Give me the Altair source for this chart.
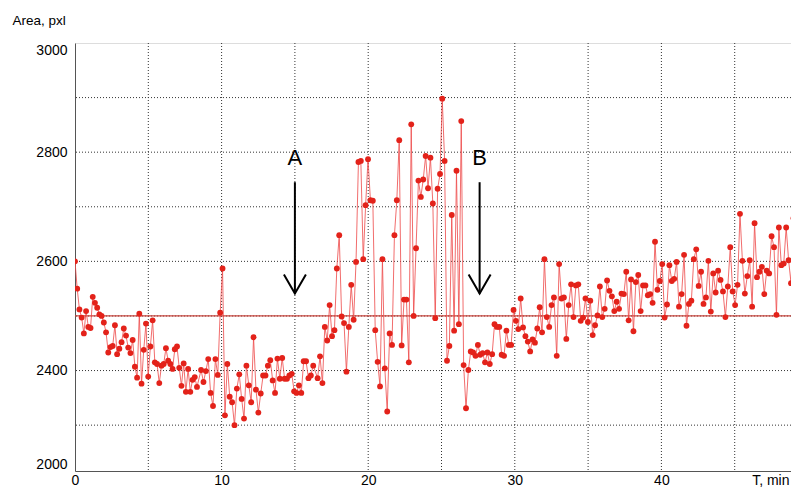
import altair as alt
import pandas as pd
import numpy as np

# ---- measured series (Area, pxl), read segment by segment ----
SEG1 = [2600, 2550, 2512, 2497, 2468, 2509, 2480, 2478, 2535, 2524,
        2515, 2503, 2500, 2488, 2470, 2433, 2443, 2445, 2483, 2430,
        2440, 2452, 2477, 2464, 2442, 2432, 2456, 2407, 2387, 2504,
        2376, 2438, 2486, 2389, 2444, 2492, 2415, 2412, 2377, 2409,
        2412, 2441, 2418, 2412, 2403, 2439, 2444, 2405, 2372, 2413,
        2361, 2403, 2361, 2383, 2388, 2370]
SEG2 = [2401, 2379, 2399, 2421, 2359, 2335, 2421, 2392, 2506, 2587,
        2318, 2412, 2352, 2342, 2300, 2367, 2393, 2348, 2312, 2409,
        2373, 2342, 2461, 2365, 2323, 2358, 2391, 2391, 2409, 2419,
        2382, 2359, 2422, 2385, 2423, 2385, 2385, 2391, 2394, 2362,
        2359, 2373, 2359, 2417, 2417, 2386, 2391, 2409]
SEG3 = [2386, 2426, 2377, 2480, 2455, 2520, 2463, 2474, 2587, 2648,
        2499, 2487, 2398, 2480, 2557, 2493, 2599, 2782, 2784, 2604,
        2703, 2787, 2712, 2711, 2474, 2416, 2371, 2604, 2404, 2325,
        2468, 2447, 2648, 2712, 2822, 2446, 2530, 2530, 2415, 2851,
        2500, 2624, 2748, 2718, 2750, 2793, 2734, 2790, 2706, 2496,
        2733, 2760]
SEG4 = [2898, 2784, 2418, 2445, 2685, 2473, 2766, 2485, 2857, 2410,
        2331, 2401, 2435, 2433, 2427, 2447, 2429, 2432, 2415, 2433,
        2412, 2430, 2485, 2480, 2480, 2429, 2427, 2473, 2447, 2447,
        2511, 2491, 2476, 2532, 2479, 2463, 2453, 2435, 2457, 2451,
        2477, 2516, 2470, 2604, 2498, 2480, 2520, 2534]
SEG5 = [2427, 2595, 2532, 2534, 2458, 2520, 2558, 2498, 2556, 2558,
        2491, 2497, 2532, 2489, 2528, 2465, 2483, 2501, 2554, 2498,
        2513, 2565, 2546, 2536, 2509, 2526, 2513, 2541, 2540, 2581,
        2492, 2567, 2472, 2562, 2575, 2509, 2556, 2556, 2538, 2540,
        2524, 2636, 2548, 2564, 2595, 2497, 2521, 2593, 2564, 2568,
        2599, 2517]
SEG6 = [2540, 2612, 2482, 2522, 2528, 2604, 2622, 2555, 2581, 2522,
        2534, 2601, 2508, 2578, 2543, 2583, 2566, 2545, 2498, 2554,
        2626, 2545, 2520, 2557, 2687, 2601, 2541, 2573, 2602, 2517,
        2670, 2571, 2581, 2590, 2540, 2583, 2578, 2646, 2626, 2502,
        2662, 2593, 2596, 2662, 2602, 2560, 2679, 2656, 2621]
SEGMENTS = [SEG1, SEG2, SEG3, SEG4, SEG5, SEG6]
# first / last sample time (min) of each segment
SEG_T0 = [0.0, 8.60, 16.55, 25.05, 32.86, 41.38]
SEG_T1 = [8.32, 16.25, 24.90, 32.67, 41.20, 49.34]

X_MAX = 48.84
Y_MIN, Y_MAX = 2216, 3000
BASELINE = [2500]
X_LABEL_VALUES = [0, 10, 20, 30, 40]
X_GRID = [5, 10, 15, 20, 25, 30, 35, 40, 45]
Y_GRID = [2300, 2400, 2500, 2600, 2700, 2800, 2900]
Y_LABEL_VALUES = [Y_MIN, 2400, 2600, 2800, 3000]
Y_LABEL_TEXT = ["2000", "2400", "2600", "2800", "3000"]

ARROW_X = [15.0, 27.6]
ARROW_TEXT = ["A", "B"]
ARROW_TEXT_Y = 2790
ARROW_TOP = 2745
ARROW_TIP = 2541
ARROW_WING_Y = 2576
ARROW_WING_DX = 0.75

FONT = "Liberation Sans"

# ---- tables ----
rows = []
for seg, t0, t1 in zip(SEGMENTS, SEG_T0, SEG_T1):
    for t, v in zip(np.linspace(t0, t1, len(seg)), seg):
        rows.append({"t": float(t), "area": v})
df = pd.DataFrame(rows)

grid_x = pd.DataFrame({"x": X_GRID})
grid_y = pd.DataFrame({"y": Y_GRID})
base_df = pd.DataFrame({"y": BASELINE})
arrows = pd.DataFrame({"x": ARROW_X, "label": ARROW_TEXT,
                       "ty": [ARROW_TEXT_Y] * len(ARROW_X),
                       "top": [ARROW_TOP] * len(ARROW_X),
                       "tip": [ARROW_TIP] * len(ARROW_X)})
heads = []
for i, ax in enumerate(ARROW_X):
    heads += [{"id": i, "o": 0, "x": ax - ARROW_WING_DX, "y": ARROW_WING_Y},
              {"id": i, "o": 1, "x": ax, "y": ARROW_TIP},
              {"id": i, "o": 2, "x": ax + ARROW_WING_DX, "y": ARROW_WING_Y}]
heads = pd.DataFrame(heads)

label_expr = "".join(
    f"datum.value == {v} ? '{s}' : " for v, s in zip(Y_LABEL_VALUES, Y_LABEL_TEXT)
) + "datum.label"

xscale = alt.Scale(domain=[0, X_MAX], nice=False, zero=False)
yscale = alt.Scale(domain=[Y_MIN, Y_MAX], nice=False, zero=False)

xaxis = alt.Axis(values=X_LABEL_VALUES, grid=False, ticks=False, tickSize=0,
                 domain=True, domainColor="#555555", domainWidth=1,
                 labelFont=FONT, labelFontSize=14, labelColor="#000000",
                 labelBaseline="alphabetic", labelPadding=13, labelFlush=False,
                 title="T, min", titleFont=FONT, titleFontSize=14,
                 titleFontWeight="normal", titleColor="#000000",
                 titleAlign="right", titleBaseline="alphabetic",
                 titleX=714, titleY=13)
yaxis = alt.Axis(values=Y_LABEL_VALUES, labelExpr=label_expr, grid=False,
                 ticks=False, tickSize=0, domain=True, domainColor="#555555",
                 domainWidth=1, labelFont=FONT, labelFontSize=14,
                 labelColor="#000000", labelPadding=8, labelFlush=True,
                 title="Area, pxl", titleFont=FONT, titleFontSize=13.5,
                 titleFontWeight="normal", titleColor="#000000",
                 titleAngle=0, titleAlign="left", titleBaseline="alphabetic",
                 titleX=-63, titleY=-19)

vgrid = alt.Chart(grid_x).mark_rule(color="#333333", strokeWidth=1,
                                    strokeDash=[1, 2]).encode(
    x=alt.X("x:Q", scale=xscale, axis=xaxis))
hgrid = alt.Chart(grid_y).mark_rule(color="#333333", strokeWidth=1,
                                    strokeDash=[1, 2]).encode(
    y=alt.Y("y:Q", scale=yscale, axis=yaxis))
base_rule = alt.Chart(base_df).mark_rule(color="#c8443c", strokeWidth=1.3).encode(
    y=alt.Y("y:Q", scale=yscale))

line = alt.Chart(df).mark_line(color="#ee4a4a", strokeWidth=0.9, opacity=0.9,
                               clip=True).encode(
    x=alt.X("t:Q", scale=xscale), y=alt.Y("area:Q", scale=yscale))
pts = alt.Chart(df).mark_circle(color="#e3221a", size=34, opacity=1,
                                clip=True).encode(
    x=alt.X("t:Q", scale=xscale), y=alt.Y("area:Q", scale=yscale))

shaft = alt.Chart(arrows).mark_rule(color="#000000", strokeWidth=2).encode(
    x=alt.X("x:Q", scale=xscale), y=alt.Y("top:Q", scale=yscale), y2="tip:Q")
head = alt.Chart(heads).mark_line(color="#000000", strokeWidth=2).encode(
    x=alt.X("x:Q", scale=xscale), y=alt.Y("y:Q", scale=yscale),
    detail="id:N", order="o:Q")
txt = alt.Chart(arrows).mark_text(font=FONT, fontSize=22, color="#000000",
                                  baseline="middle", align="center").encode(
    x=alt.X("x:Q", scale=xscale), y=alt.Y("ty:Q", scale=yscale), text="label:N")

chart = alt.layer(vgrid, hgrid, base_rule, line, pts, shaft, head, txt).properties(
    width=716, height=428,
    autosize=alt.AutoSizeParams(type="none"),
    padding={"left": 67, "top": 35, "right": 0, "bottom": 16},
).configure_view(stroke="#555555", strokeWidth=1).configure(background="white")

chart.save("out.html", embed_options={"renderer": "svg", "actions": False})
